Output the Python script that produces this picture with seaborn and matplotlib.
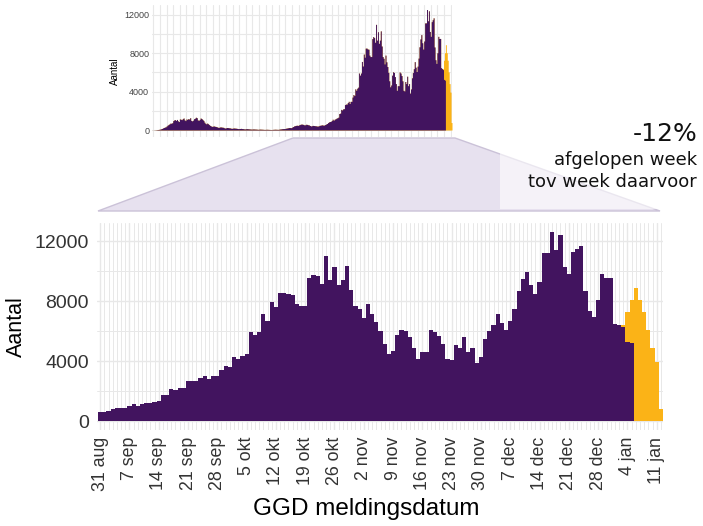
import numpy as np
import pandas as pd
import matplotlib
matplotlib.use('Agg')
import matplotlib.pyplot as plt
from matplotlib.patches import Polygon, Rectangle
import seaborn as sns

# aantallen per GGD meldingsdatum vanaf 31 aug (paars deel)
paars = [570, 620, 680, 770, 840, 880, 900, 990, 1120, 1010,
         1120, 1170, 1230, 1280, 1340, 1720, 1760, 2150, 2090, 2200,
         2220, 2650, 2700, 2700, 2860, 2990, 2770, 2990, 2990, 3430,
         3700, 3590, 4290, 4140, 4360, 4470, 5940, 5720, 5940, 7150,
         6670, 7920, 7590, 8540, 8540, 8450, 8430, 7810, 7660, 7660,
         9530, 9750, 9640, 9150, 11020, 9370, 10250, 9040, 9370, 10340,
         8760, 7660, 7480, 6890, 7810, 7110, 6620, 6010, 5130, 4500,
         4690, 5720, 6070, 6010, 5570, 4840, 4140, 4620, 4620, 6050,
         5940, 5680, 5130, 4140, 4070, 5060, 4840, 5610, 4620, 4840,
         3850, 4280, 5440, 5990, 6390, 7130, 6550, 6100, 6660, 7500,
         8680, 9500, 9950, 9100, 8440, 9280, 11170, 11170, 12570, 11390,
         12430, 10280, 9770, 11300, 11500, 11700, 8660, 7330, 6950, 8060,
         9770, 9550, 9550, 6500, 6400, 6300, 5280, 5200, 0, 0,
         0, 0, 0, 0, 0]
# geel deel (bovenop paars)
geel = [0] * 125 + [80, 2000, 2860, 8900, 8060, 7280, 6060, 4840, 3950, 780]

# 1 mrt - 30 aug, alleen in het overzicht bovenaan
voorjaar = [5, 8, 12, 20, 30, 45, 55, 70, 90, 120, 160, 210, 260, 300, 330, 420,
            500, 580, 640, 720, 700, 760, 980, 1050, 1080, 1000, 1100, 950, 880, 1150, 1120,
            1080, 1180, 1250, 1050, 980, 1150, 1100, 1200, 1130, 1280, 1000, 950, 1020, 1180,
            1230, 1330, 1280, 1050, 1000, 1100, 1250, 1200, 1100, 1000, 820, 700, 640, 720, 650, 560,
            480, 420, 380, 400, 420, 390, 370, 340, 300, 260, 300, 320, 310, 290, 280, 230,
            200, 230, 260, 250, 230, 220, 190, 170, 190, 210, 200, 190, 180, 160, 140,
            150, 160, 170, 150, 140, 120, 110, 130, 140, 130, 120, 110, 100, 90, 100, 110,
            100, 95, 90, 80, 70, 85, 90, 85, 80, 75, 65, 60, 70, 75,
            70, 65, 60, 55, 50, 60, 70, 75, 80, 75, 70, 65, 80, 100, 110, 130,
            140, 150, 145, 170, 200, 210, 240, 260, 250, 240, 300, 360, 420, 450, 480,
            500, 470, 520, 560, 600, 620, 600, 580, 520, 550, 600, 580, 540, 520, 470, 420,
            450, 480, 470, 450, 440, 420, 400, 430, 480, 500, 520, 540, 500, 510]

tick_labels = ['31 aug', '7 sep', '14 sep', '21 sep', '28 sep', '5 okt', '12 okt',
               '19 okt', '26 okt', '2 nov', '9 nov', '16 nov', '23 nov', '30 nov',
               '7 dec', '14 dec', '21 dec', '28 dec', '4 jan', '11 jan']

PAARS = '#42145f'
GEEL = '#fbb317'
GRID = '#e8e8e8'

sns.set_theme(style='white')
plt.rcParams['font.family'] = ['Liberation Sans', 'DejaVu Sans']

df = pd.DataFrame({'dag': np.arange(len(paars)), 'paars': paars})
df['totaal'] = df['paars'] + np.array(geel)

alles = voorjaar + paars
df2 = pd.DataFrame({'dag': np.arange(-len(voorjaar), len(paars)), 'paars': alles})
df2['totaal'] = df2['paars'] + np.array([0] * len(voorjaar) + geel)

fig = plt.figure(figsize=(7.03, 5.26), dpi=100)
W, H = 703, 526
def fig_rect(x0, y0, x1, y1):
    return [x0 / W, 1 - y1 / H, (x1 - x0) / W, (y1 - y0) / H]

def staven(data, ax):
    # gevulde trap: eerst totaal (geel), dan paars eroverheen
    sns.histplot(data=data, x='dag', weights='totaal', discrete=True, element='step',
                 fill=True, color=GEEL, alpha=1, linewidth=0, ax=ax)
    sns.histplot(data=data, x='dag', weights='paars', discrete=True, element='step',
                 fill=True, color=PAARS, alpha=1, linewidth=0, ax=ax)

# hoofdgrafiek
ax = fig.add_axes(fig_rect(97, 223, 663, 430))
staven(df, ax)
ax.set_xlim(-0.75, 134.5)
ax.set_ylim(-600, 13200)
ax.set_xticks(np.arange(0, len(tick_labels) * 7, 7))
ax.set_xticklabels(tick_labels, rotation=90, fontsize=12.8, color='#333333')
ax.set_xticks(np.arange(0, 135), minor=True)
ax.set_yticks([0, 4000, 8000, 12000])
ax.set_yticklabels(['0', '4000', '8000', '12000'], fontsize=14, color='#333333')
ax.set_yticks([2000, 6000, 10000], minor=True)
ax.grid(which='major', color=GRID, linewidth=1.0)
ax.grid(which='minor', color=GRID, linewidth=0.7)
ax.set_axisbelow(True)
ax.tick_params(which='both', length=0)
ax.tick_params(axis='x', pad=5)
ax.tick_params(axis='y', pad=6)
for s in ax.spines.values():
    s.set_visible(False)
ax.set_xlabel('GGD meldingsdatum', fontsize=17.5, color='black')
ax.xaxis.set_label_coords(0.475, -0.33)
ax.set_ylabel('Aantal', fontsize=15.5, color='black', labelpad=5)

# klein overzicht
ax2 = fig.add_axes(fig_rect(152, 5, 452, 137))
staven(df2, ax2)
ax2.set_xlim(-183.5, 134.5)
ax2.set_ylim(-730, 13040)
ax2.set_xticks(np.arange(-182, 135, 7))
ax2.set_xticklabels([])
ax2.set_yticks([0, 4000, 8000, 12000])
ax2.set_yticklabels(['0', '4000', '8000', '12000'], fontsize=6.5, color='#444444')
ax2.set_yticks([2000, 6000, 10000], minor=True)
ax2.grid(which='both', color=GRID, linewidth=0.8)
ax2.set_axisbelow(True)
ax2.tick_params(which='both', length=0, pad=2)
for s in ax2.spines.values():
    s.set_visible(False)
ax2.set_xlabel('')
ax2.set_ylabel('Aantal', fontsize=7, color='black', labelpad=3)

# uitvergroting
pts = [(293, 138), (455, 138), (660, 211), (98, 211)]
fig.add_artist(Polygon([(x / W, 1 - y / H) for x, y in pts], closed=True,
                       transform=fig.transFigure, facecolor='#e7e1ef',
                       edgecolor='#cbc2d8', linewidth=1.0, zorder=0))
fig.add_artist(Rectangle((500 / W, 1 - 209 / H), 203 / W, 109 / H,
                         transform=fig.transFigure, facecolor='white',
                         edgecolor='none', alpha=0.6, zorder=1))

fig.text(697 / W, 1 - 134 / H, '-12%', ha='right', va='center', fontsize=18,
         family=['DejaVu Sans'], color='#111111', zorder=2)
fig.text(697 / W, 1 - 160 / H, 'afgelopen week', ha='right', va='center',
         fontsize=13, family=['DejaVu Sans'], color='#111111', zorder=2)
fig.text(697 / W, 1 - 182 / H, 'tov week daarvoor', ha='right', va='center',
         fontsize=13, family=['DejaVu Sans'], color='#111111', zorder=2)

fig.savefig('out.png', dpi=100)
